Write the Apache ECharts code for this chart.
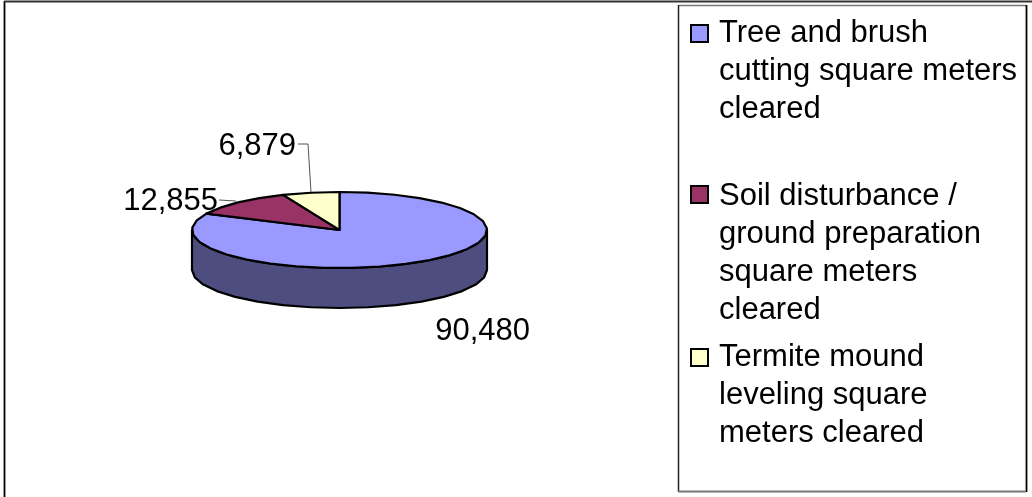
<!DOCTYPE html>
<html>
<head>
<meta charset="utf-8">
<style>html,body{margin:0;padding:0;background:#fff}#chart{width:1032px;height:497px}</style>
<script src="https://cdn.jsdelivr.net/npm/echarts@6/dist/echarts.min.js"></script>
</head>
<body>
<div id="chart"></div>
<script>
// Area cleared per activity, drawn as a tilted pie with a visible rim.
const categories = [
  'Tree and brush cutting square meters cleared',
  'Soil disturbance / ground preparation square meters cleared',
  'Termite mound leveling square meters cleared'
];
const legendLines = [
  ['Tree and brush', 'cutting square meters', 'cleared'],
  ['Soil disturbance /', 'ground preparation', 'square meters', 'cleared'],
  ['Termite mound', 'leveling square', 'meters cleared']
];
const clearedArea = [90480, 12855, 6879];
const sliceColors = ['#9999ff', '#993366', '#ffffcc'];

const FONT = '"Liberation Sans", Arial, sans-serif';
const FONT_SIZE = 31;
const TEXT = '#000000';
const RIM = '#4d4d80';
const pie = { cx: 339.5, cy: 230, rx: 147.5, ry: 38, depth: 40, step: 11 };
const labelAnchors = [
  { x: 530, y: 331, align: 'right', leader: null },
  { x: 218, y: 201, align: 'right', leader: [[219, 200], [236, 201]] },
  { x: 296, y: 146, align: 'right', leader: [[298, 144], [308, 144], [311, 192]] }
];
const legendRows = [
  { swatchY: 25, textX: 719, firstLine: 33 },
  { swatchY: 186, textX: 719, firstLine: 196 },
  { swatchY: 349, textX: 719, firstLine: 357 }
];
const LINE_GAP = 38;

const total = clearedArea.reduce((a, b) => a + b, 0);

// Clockwise degrees from twelve o'clock to a point on the top ellipse.
function rimPoint(deg, drop) {
  const a = deg * Math.PI / 180;
  return [pie.cx + pie.rx * Math.sin(a), pie.cy - pie.ry * Math.cos(a) + (drop || 0)];
}
function arc(from, to, drop) {
  const pts = [];
  const n = Math.max(1, Math.round(Math.abs(to - from) / pie.step));
  for (let i = 0; i <= n; i++) pts.push(rimPoint(from + (to - from) * i / n, drop));
  return pts;
}
function startAngle(index) {
  let s = 0;
  for (let i = 0; i < index; i++) s += clearedArea[i];
  return s / total * 360;
}

function renderSlice(params, api) {
  const i = params.dataIndex;
  const from = startAngle(i);
  const to = from + api.value(0) / total * 360;
  const stroke = { stroke: '#000', lineWidth: 2.2, lineJoin: 'round' };
  const children = [];

  // The rim only shows on the near half of the ellipse (90 to 270 degrees).
  const wallFrom = Math.max(from, 90);
  const wallTo = Math.min(to, 270);
  if (wallTo > wallFrom) {
    children.push({
      type: 'polygon',
      shape: { points: arc(wallFrom, wallTo, 0).concat(arc(wallTo, wallFrom, pie.depth)) },
      style: Object.assign({ fill: RIM }, stroke)
    });
  }
  children.push({
    type: 'polygon',
    shape: { points: [[pie.cx, pie.cy]].concat(arc(from, to, 0)) },
    style: Object.assign({ fill: api.visual('color') }, stroke)
  });

  const anchor = labelAnchors[i];
  if (anchor.leader) {
    children.push({
      type: 'polyline',
      shape: { points: anchor.leader },
      style: { stroke: '#555', lineWidth: 1, fill: null }
    });
  }
  children.push({
    type: 'text',
    style: {
      x: anchor.x, y: anchor.y,
      text: api.value(0).toLocaleString('en-US'),
      font: FONT_SIZE + 'px ' + FONT,
      fill: TEXT, align: anchor.align, verticalAlign: 'middle'
    }
  });
  return { type: 'group', children };
}

// Legend panel: white box, edges of differing weight, one swatch per slice, wrapped captions.
const legendGraphics = [
  { type: 'rect', shape: { x: 679, y: 5, width: 347, height: 486 }, style: { fill: '#fff' } },
  { type: 'line', shape: { x1: 679, y1: 5.5, x2: 1026, y2: 5.5 }, style: { stroke: '#777', lineWidth: 1.5 } },
  { type: 'line', shape: { x1: 678.5, y1: 5, x2: 678.5, y2: 492 }, style: { stroke: '#222', lineWidth: 1.5 } },
  { type: 'line', shape: { x1: 1026.5, y1: 5, x2: 1026.5, y2: 492 }, style: { stroke: '#000', lineWidth: 1.8 } },
  { type: 'line', shape: { x1: 678, y1: 491.5, x2: 1026, y2: 491.5 }, style: { stroke: '#777', lineWidth: 2 } }
];
categories.forEach((name, i) => {
  const row = legendRows[i];
  legendGraphics.push({
    type: 'rect',
    shape: { x: 691, y: row.swatchY, width: 17, height: 17 },
    style: { fill: sliceColors[i], stroke: '#000', lineWidth: 2 }
  });
  legendLines[i].forEach((line, k) => {
    legendGraphics.push({
      type: 'text',
      style: {
        x: row.textX, y: row.firstLine + k * LINE_GAP,
        text: line, font: FONT_SIZE + 'px ' + FONT, fill: TEXT,
        align: 'left', verticalAlign: 'middle'
      }
    });
  });
});

// Outer chart frame along the top and left edges.
const frame = [
  { type: 'line', shape: { x1: 4.5, y1: 1, x2: 4.5, y2: 497 }, style: { stroke: '#000', lineWidth: 1.8 } },
  { type: 'line', shape: { x1: 4, y1: 1.5, x2: 1032, y2: 1.5 }, style: { stroke: '#333', lineWidth: 2 } }
];

const chart = echarts.init(document.getElementById('chart'), null, { renderer: 'canvas' });
chart.setOption({
  animation: false,
  backgroundColor: '#fff',
  graphic: { elements: frame.concat(legendGraphics) },
  series: [{
    type: 'custom',
    coordinateSystem: 'none',
    renderItem: renderSlice,
    encode: { value: 0 },
    data: clearedArea.map((v, i) => ({ name: categories[i], value: [v], itemStyle: { color: sliceColors[i] } }))
  }]
});
</script>
</body>
</html>
